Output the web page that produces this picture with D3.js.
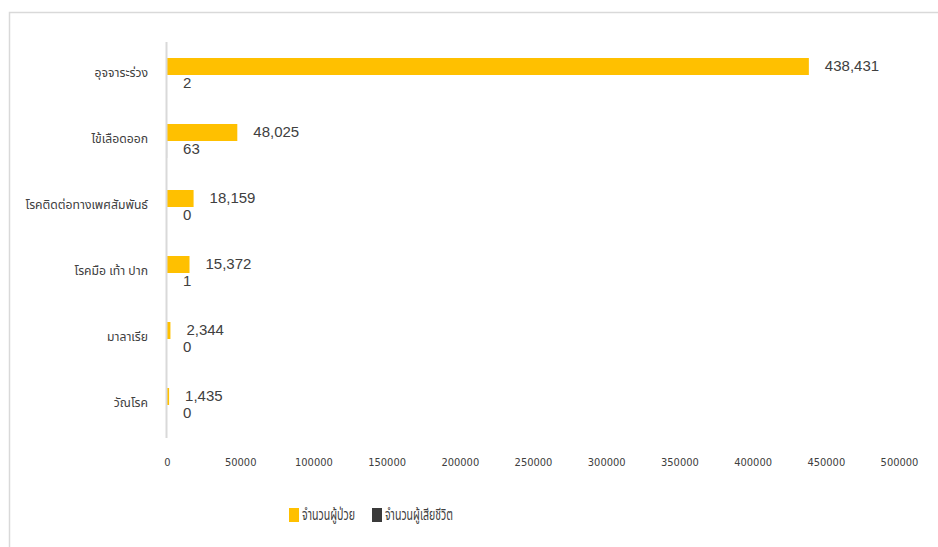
<!DOCTYPE html>
<html>
<head>
<meta charset="utf-8">
<script src="https://cdn.jsdelivr.net/npm/d3@7"></script>
<style>
  html, body { margin: 0; padding: 0; background: #fff; }
  svg { display: block; }
</style>
</head>
<body>
<svg id="chart" width="938" height="547"></svg>
<script>
// Diseases (top to bottom) and the two series per disease
const categories = ["อุจจาระร่วง", "ไข้เลือดออก", "โรคติดต่อทางเพศสัมพันธ์", "โรคมือ เท้า ปาก", "มาลาเรีย", "วัณโรค"];
const patients = [438431, 48025, 18159, 15372, 2344, 1435];
const deaths = [2, 63, 0, 1, 0, 0];
const seriesNames = ["จำนวนผู้ป่วย", "จำนวนผู้เสียชีวิต"];
const seriesColors = ["#FFC000", "#3A3A3A"];
const xTicks = [0, 50000, 100000, 150000, 200000, 250000, 300000, 350000, 400000, 450000, 500000];

const svg = d3.select("#chart");
const thaiFont = "Tahoma, 'Noto Sans Thai', 'Leelawadee UI', sans-serif";
const numFont = "'Liberation Sans', Arial, sans-serif";
const tickFont = "'Liberation Sans Narrow', 'Arial Narrow', 'DejaVu Sans Condensed', sans-serif";

// chart frame
svg.append("rect")
  .attr("x", 9.5).attr("y", 12.5)
  .attr("width", 940).attr("height", 540)
  .attr("fill", "none")
  .attr("stroke", "#d9d9d9")
  .attr("stroke-width", 1.5);

const x = d3.scaleLinear().domain([0, 500000]).range([167, 899]);
const y = d3.scaleBand().domain(categories).range([42, 438])
  .paddingInner(0.485).paddingOuter(0.2425);
const ySub = d3.scaleBand().domain(seriesNames).range([0, y.bandwidth()]);

const rows = categories.map((c, i) => ({ cat: c, values: [patients[i], deaths[i]] }));

// bars
const g = svg.append("g");
const groups = g.selectAll("g.cat").data(rows).join("g")
  .attr("class", "cat")
  .attr("transform", d => `translate(0,${y(d.cat)})`);

groups.selectAll("rect").data(d => d.values.map((v, i) => ({ v, s: seriesNames[i], i })))
  .join("rect")
  .attr("x", x(0))
  .attr("y", d => ySub(d.s))
  .attr("width", d => x(d.v) - x(0))
  .attr("height", ySub.bandwidth())
  .attr("fill", d => seriesColors[d.i]);

// value labels
const fmt = d3.format(",");
groups.selectAll("text").data(d => d.values.map((v, i) => ({ v, s: seriesNames[i], i })))
  .join("text")
  .attr("x", d => x(d.v) + 16)
  .attr("y", d => ySub(d.s) + ySub.bandwidth() / 2 - 1)
  .attr("dy", "0.36em")
  .attr("font-family", numFont)
  .attr("font-size", 15)
  .attr("fill", "#404040")
  .text(d => fmt(d.v));

// vertical category axis line
svg.append("line")
  .attr("x1", 166.5).attr("x2", 166.5)
  .attr("y1", 42).attr("y2", 438)
  .attr("stroke", "#d9d9d9").attr("stroke-width", 2);

// category labels
svg.append("g").selectAll("text").data(categories).join("text")
  .attr("x", 148)
  .attr("y", d => y(d) + y.bandwidth() / 2 - 2.5)
  .attr("dy", "0.35em")
  .attr("text-anchor", "end")
  .attr("font-family", thaiFont)
  .attr("font-size", 12.2)
  .attr("fill", "#404040")
  .text(d => d);

// value axis (no line, labels only)
const xAxis = svg.append("g")
  .attr("transform", "translate(0,462)")
  .call(d3.axisBottom(x).tickValues(xTicks).tickFormat(d3.format("d")).tickSize(0).tickPadding(0));
xAxis.select(".domain").remove();
xAxis.selectAll("text")
  .attr("dy", "0.35em")
  .attr("font-family", tickFont)
  .attr("font-size", 11)
  .attr("fill", "#404040");

// legend
const legend = svg.append("g").attr("transform", "translate(289,508)");
const legendX = [0, 83];
const legendTextLen = [53, 68];
seriesNames.forEach((name, i) => {
  const lg = legend.append("g").attr("transform", `translate(${legendX[i]},0)`);
  lg.append("rect").attr("width", 10).attr("height", 14).attr("fill", seriesColors[i]);
  lg.append("text")
    .attr("x", 13).attr("y", 6).attr("dy", "0.35em")
    .attr("font-family", thaiFont)
    .attr("font-size", 16)
    .attr("fill", "#404040")
    .attr("textLength", legendTextLen[i])
    .attr("lengthAdjust", "spacingAndGlyphs")
    .text(name);
});
</script>
</body>
</html>
